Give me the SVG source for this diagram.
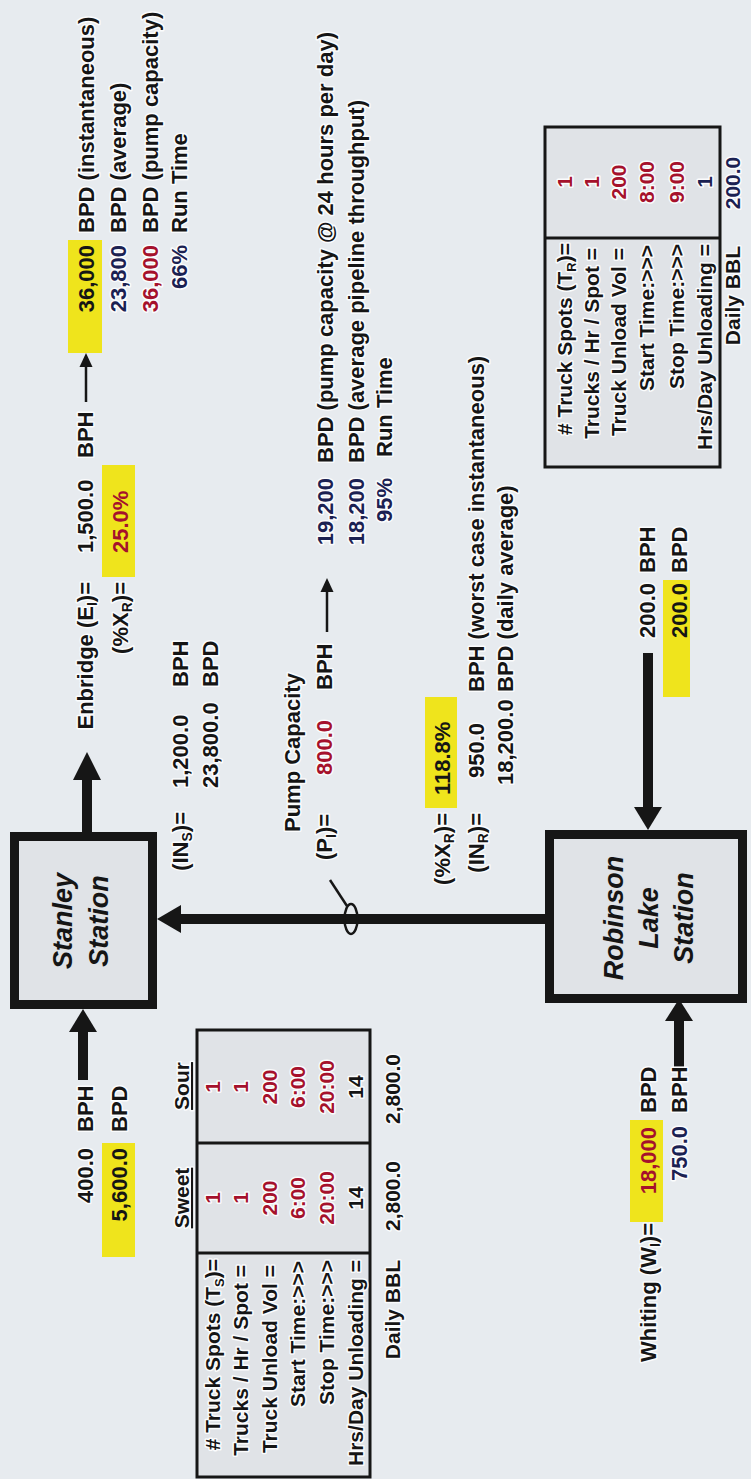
<svg xmlns="http://www.w3.org/2000/svg" width="751" height="1479" viewBox="0 0 751 1479">
<style>
.t{font-family:"Liberation Sans",Arial,sans-serif;font-weight:bold;font-size:22px;fill:#151515;paint-order:stroke;stroke:#fbfcfd;stroke-width:3px;stroke-linejoin:round}
.nh{stroke:none}
.r{fill:#a5112c}
.n{fill:#1b2152}
.e{text-anchor:end}
.m{text-anchor:middle}
.st{font-size:27px;font-style:italic;text-anchor:middle;stroke:none}
.tb{font-size:21px}
.hl{fill:#efe41c}
.box{fill:#e0e3e7;stroke:#161616;stroke-width:9}
.tbl{fill:#e0e3e7;stroke:#161616;stroke-width:3}
.div{stroke:#161616;stroke-width:3}
.pipe{stroke:#161616;stroke-width:10;fill:none}
.thin{stroke:#161616;stroke-width:2.5;fill:none}
.head{fill:#161616}
</style>
<rect x="0" y="0" width="751" height="1479" fill="#e7ebef"/>
<g transform="translate(0,1479) rotate(-90)">

<g id="connectors">
  <!-- Stanley inflow from bottom -->
  <line class="pipe" x1="399" y1="83" x2="449" y2="83"/>
  <polygon class="head" points="470,83 447,69 447,97"/>
  <!-- Stanley to Enbridge -->
  <line class="pipe" x1="645" y1="87" x2="701" y2="87"/>
  <polygon class="head" points="727,87 699,73 699,101"/>
  <!-- Enbridge thin arrow -->
  <line class="thin" x1="1077" y1="86" x2="1114" y2="86"/>
  <polygon class="head" points="1126,86 1112,79.5 1112,92.5"/>
  <!-- Robinson to Stanley pipe -->
  <line class="pipe" x1="560" y1="178" x2="560" y2="547"/>
  <polygon class="head" points="560,157 546,181 574,181"/>
  <!-- pump symbol -->
  <ellipse cx="560" cy="351" rx="15" ry="6.5" fill="none" stroke="#161616" stroke-width="2.5"/>
  <line class="thin" x1="599" y1="330" x2="573" y2="347"/>
  <!-- pump capacity thin arrow -->
  <line class="thin" x1="847" y1="327" x2="889" y2="327"/>
  <polygon class="head" points="901,327 887,320.5 887,333.5"/>
  <!-- 200 BPH into Robinson -->
  <line class="pipe" x1="826" y1="648" x2="669" y2="648"/>
  <polygon class="head" points="649,648 672,634 672,662"/>
  <!-- Whiting into Robinson -->
  <line class="pipe" x1="412" y1="679" x2="461" y2="679"/>
  <polygon class="head" points="480,679 458,665 458,693"/>
</g>

<g id="node-stanley">
  <rect class="box" x="474.5" y="14.5" width="168" height="138"/>
  <text class="t st" x="558" y="72">Stanley</text>
  <text class="t st" x="558" y="108">Station</text>
</g>

<g id="node-robinson">
  <rect class="box" x="480.5" y="549.5" width="164" height="193"/>
  <text class="t st" x="561" y="623">Robinson</text>
  <text class="t st" x="561" y="658">Lake</text>
  <text class="t st" x="561" y="693">Station</text>
</g>

<g id="label-stanley-inflow">
  <rect class="hl" x="222" y="102" width="114" height="33"/>
  <text class="t e" x="331" y="93">400.0</text>
  <text class="t" x="347" y="93">BPH</text>
  <text class="t e nh" x="331" y="127">5,600.0</text>
  <text class="t" x="347" y="127">BPD</text>
</g>

<g id="label-stanley-in">
  <text class="t e" x="667" y="188">(IN<tspan dy="4" font-size="14">S</tspan><tspan dy="-4">)=</tspan></text>
  <text class="t" x="691" y="188">1,200.0</text>
  <text class="t" x="792" y="188">BPH</text>
  <text class="t" x="691" y="218">23,800.0</text>
  <text class="t" x="792" y="218">BPD</text>
</g>

<g id="label-enbridge">
  <text class="t e" x="897" y="93">Enbridge (E<tspan dy="4" font-size="14">I</tspan><tspan dy="-4">)=</tspan></text>
  <text class="t e" x="897" y="128">(%X<tspan dy="4" font-size="14">R</tspan><tspan dy="-4">)=</tspan></text>
  <rect class="hl" x="902" y="102" width="112" height="33"/>
  <text class="t" x="926" y="93">1,500.0</text>
  <text class="t r nh" x="926" y="128">25.0%</text>
  <text class="t" x="1021" y="93">BPH</text>
</g>

<g id="label-enbridge-results">
  <rect class="hl" x="1126" y="68" width="113" height="34"/>
  <text class="t e nh" x="1234" y="94">36,000</text>
  <text class="t" x="1246" y="94">BPD (instantaneous)</text>
  <text class="t e n" x="1234" y="126">23,800</text>
  <text class="t" x="1246" y="126">BPD (average)</text>
  <text class="t e r" x="1234" y="158">36,000</text>
  <text class="t" x="1246" y="158">BPD (pump capacity)</text>
  <text class="t e n" x="1234" y="187">66%</text>
  <text class="t" x="1246" y="187">Run Time</text>
</g>

<g id="label-pump">
  <text class="t" x="647" y="300">Pump Capacity</text>
  <text class="t" x="619" y="332">(P<tspan dy="4" font-size="14">I</tspan><tspan dy="-4">)=</tspan></text>
  <text class="t r" x="704" y="332">800.0</text>
  <text class="t" x="789" y="332">BPH</text>
  <text class="t e n" x="1001" y="333">19,200</text>
  <text class="t" x="1016" y="333">BPD (pump capacity @ 24 hours per day)</text>
  <text class="t e n" x="1001" y="364">18,200</text>
  <text class="t" x="1016" y="364">BPD (average pipeline throughput)</text>
  <text class="t e n" x="1001" y="392">95%</text>
  <text class="t" x="1022" y="392">Run Time</text>
</g>

<g id="label-robinson-out">
  <text class="t e" x="666" y="450">(%X<tspan dy="4" font-size="14">R</tspan><tspan dy="-4">)=</tspan></text>
  <rect class="hl" x="671" y="425" width="111" height="32"/>
  <text class="t nh" x="684" y="450">118.8%</text>
  <text class="t e" x="666" y="484">(IN<tspan dy="4" font-size="14">R</tspan><tspan dy="-4">)=</tspan></text>
  <text class="t" x="701" y="484">950.0</text>
  <text class="t" x="787" y="484">BPH (worst case instantaneous)</text>
  <text class="t" x="694" y="513">18,200.0</text>
  <text class="t" x="787" y="513">BPD (daily average)</text>
</g>

<g id="label-robinson-truck-in">
  <rect class="hl" x="782" y="663" width="117" height="27"/>
  <text class="t e" x="896" y="655">200.0</text>
  <text class="t" x="906" y="655">BPH</text>
  <text class="t e nh" x="896" y="687">200.0</text>
  <text class="t" x="906" y="687">BPD</text>
</g>

<g id="label-whiting">
  <text class="t e" x="256" y="656">Whiting (W<tspan dy="4" font-size="14">I</tspan><tspan dy="-4">)=</tspan></text>
  <rect class="hl" x="257" y="630" width="102" height="33"/>
  <text class="t e r nh" x="352" y="656">18,000</text>
  <text class="t" x="366" y="656">BPD</text>
  <text class="t e n" x="353" y="687">750.0</text>
  <text class="t" x="366" y="687">BPH</text>
</g>

<g id="node-stanley-truck-table">
  <rect class="tbl" x="2" y="197" width="447" height="173"/>
  <line class="div" x1="226" y1="197" x2="226" y2="370"/>
  <line class="div" x1="336" y1="197" x2="336" y2="370"/>
  <text class="t tb m" x="281" y="189" text-decoration="underline">Sweet</text>
  <text class="t tb m" x="393" y="189" text-decoration="underline">Sour</text>
  <text class="t tb e" x="220" y="220"># Truck Spots (T<tspan dy="4" font-size="13">S</tspan><tspan dy="-4">)=</tspan></text>
  <text class="t tb e" x="214" y="248">Trucks / Hr / Spot =</text>
  <text class="t tb e" x="214" y="277">Truck Unload Vol =</text>
  <text class="t tb e" x="218" y="305">Start Time:&gt;&gt;&gt;</text>
  <text class="t tb e" x="219" y="334">Stop Time:&gt;&gt;&gt;</text>
  <text class="t tb e" x="219" y="363">Hrs/Day Unloading =</text>
  <text class="t tb m r" x="281" y="220">1</text>
  <text class="t tb m r" x="281" y="248">1</text>
  <text class="t tb m r" x="281" y="277">200</text>
  <text class="t tb m r" x="281" y="305">6:00</text>
  <text class="t tb m r" x="281" y="334">20:00</text>
  <text class="t tb m" x="281" y="363">14</text>
  <text class="t tb m r" x="392" y="220">1</text>
  <text class="t tb m r" x="392" y="248">1</text>
  <text class="t tb m r" x="392" y="277">200</text>
  <text class="t tb m r" x="392" y="305">6:00</text>
  <text class="t tb m r" x="392" y="334">20:00</text>
  <text class="t tb m" x="392" y="363">14</text>
  <text class="t tb e" x="219" y="400">Daily BBL</text>
  <text class="t tb m" x="283" y="400">2,800.0</text>
  <text class="t tb m" x="390" y="400">2,800.0</text>
</g>

<g id="node-robinson-truck-table">
  <rect class="tbl" x="1012" y="545" width="340" height="175"/>
  <line class="div" x1="1241" y1="545" x2="1241" y2="720"/>
  <text class="t tb e" x="1236" y="572"># Truck Spots (T<tspan dy="4" font-size="13">R</tspan><tspan dy="-4">)=</tspan></text>
  <text class="t tb e" x="1231" y="599">Trucks / Hr / Spot =</text>
  <text class="t tb e" x="1231" y="626">Truck Unload Vol =</text>
  <text class="t tb e" x="1234" y="654">Start Time:&gt;&gt;&gt;</text>
  <text class="t tb e" x="1235" y="684">Stop Time:&gt;&gt;&gt;</text>
  <text class="t tb e" x="1235" y="712">Hrs/Day Unloading =</text>
  <text class="t tb m r" x="1297" y="572">1</text>
  <text class="t tb m r" x="1297" y="599">1</text>
  <text class="t tb m r" x="1297" y="626">200</text>
  <text class="t tb m r" x="1297" y="654">8:00</text>
  <text class="t tb m r" x="1297" y="684">9:00</text>
  <text class="t tb m n" x="1297" y="712">1</text>
  <text class="t tb e" x="1233" y="740">Daily BBL</text>
  <text class="t tb m n" x="1296" y="740">200.0</text>
</g>

</g>
</svg>
